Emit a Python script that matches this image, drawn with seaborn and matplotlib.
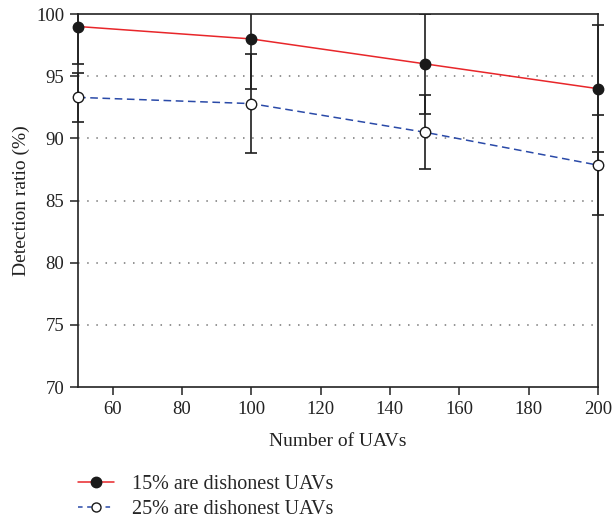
import numpy as np
import pandas as pd
import matplotlib
matplotlib.use("Agg")
import matplotlib.pyplot as plt
import matplotlib.transforms as mtransforms
from matplotlib.patches import Rectangle
import seaborn as sns
from matplotlib.lines import Line2D

uavs = [50, 100, 150, 200]
ratio_15 = [99.0, 98.0, 96.0, 94.0]
err_15 = [3.0, 4.0, 4.0, 5.1]
ratio_25 = [93.3, 92.8, 90.5, 87.85]
err_25 = [2.0, 4.0, 3.0, 4.0]
label_15 = "15% are dishonest UAVs"
label_25 = "25% are dishonest UAVs"

sns.set_theme(style="white")
plt.rcParams['font.family'] = ['Liberation Serif', 'DejaVu Serif']

fig = plt.figure(figsize=(6.12, 5.21), dpi=100)
ax = fig.add_axes([0.1275, 0.257, 0.8495, 0.716])

df = pd.DataFrame({
    "uavs": uavs * 2,
    "ratio": ratio_15 + ratio_25,
    "group": [label_15] * 4 + [label_25] * 4,
})

ax.set_xlim(50, 200)
ax.set_ylim(70, 100)

blend = mtransforms.blended_transform_factory(ax.transAxes, ax.transData)
clip_rect = Rectangle((-0.05, 70), 1.1, 30, transform=blend, facecolor='none', edgecolor='none')

# error bars
for vals, errs in [(ratio_15, err_15), (ratio_25, err_25)]:
    cont = ax.errorbar(uavs, vals, yerr=errs, fmt='none', ecolor='#1e1e1e',
                       elinewidth=1.2, capsize=4.5, capthick=1.2, zorder=2)
    for art in list(cont.lines[1]) + list(cont.lines[2]):
        art.set_clip_on(True)
        art.set_clip_path(clip_rect)

sns.lineplot(data=df[df.group == label_15], x="uavs", y="ratio", ax=ax,
             color='#e8262a', linewidth=1.1, zorder=3, legend=False)
sns.lineplot(data=df[df.group == label_25], x="uavs", y="ratio", ax=ax,
             color='#2a4aa8', linewidth=1.1, linestyle=(0, (5, 3)), zorder=3, legend=False)
ax.plot(uavs, ratio_15, 'o', ms=7.5, mfc='#1a1a1a', mec='#1a1a1a', mew=1.0,
        zorder=5, clip_on=False)
ax.plot(uavs, ratio_25, 'o', ms=7.5, mfc='white', mec='#1a1a1a', mew=1.0,
        zorder=5, clip_on=False)

ax.set_xlim(50, 200)
ax.set_ylim(70, 100)
ax.set_xticks([60, 80, 100, 120, 140, 160, 180, 200])
ax.set_yticks([70, 75, 80, 85, 90, 95, 100])
for yv in [75, 80, 85, 90, 95]:
    ax.axhline(yv, color='#777777', linestyle=(0, (1, 5)), linewidth=1.1, zorder=1)

for s in ax.spines.values():
    s.set_color('#222222')
    s.set_linewidth(1.2)
ax.tick_params(axis='both', which='both', direction='out', length=6, width=1.1,
               color='#222222', labelsize=13.5, labelcolor='#222222',
               bottom=True, left=True, top=False, right=False, pad=4)
ax.set_xlabel("Number of UAVs", fontsize=14, color='#222222', labelpad=11)
ax.set_ylabel("Detection ratio (%)", fontsize=14, color='#222222', labelpad=4)

handles = [
    Line2D([], [], color='#e8262a', linewidth=1.1, marker='o', ms=7.5,
           mfc='#1a1a1a', mec='#1a1a1a'),
    Line2D([], [], color='#2a4aa8', linewidth=1.1, linestyle=(0, (3, 3)), marker='o', ms=6.5,
           mfc='white', mec='#1a1a1a'),
]
fig.legend(handles, [label_15, label_25], loc='upper left',
           bbox_to_anchor=(0.127, 0.088), bbox_transform=fig.transFigure,
           frameon=False, fontsize=14.5, handlelength=1.8, handletextpad=0.9,
           labelspacing=0.3, borderaxespad=0, borderpad=0)

fig.savefig("out.png", dpi=100)
